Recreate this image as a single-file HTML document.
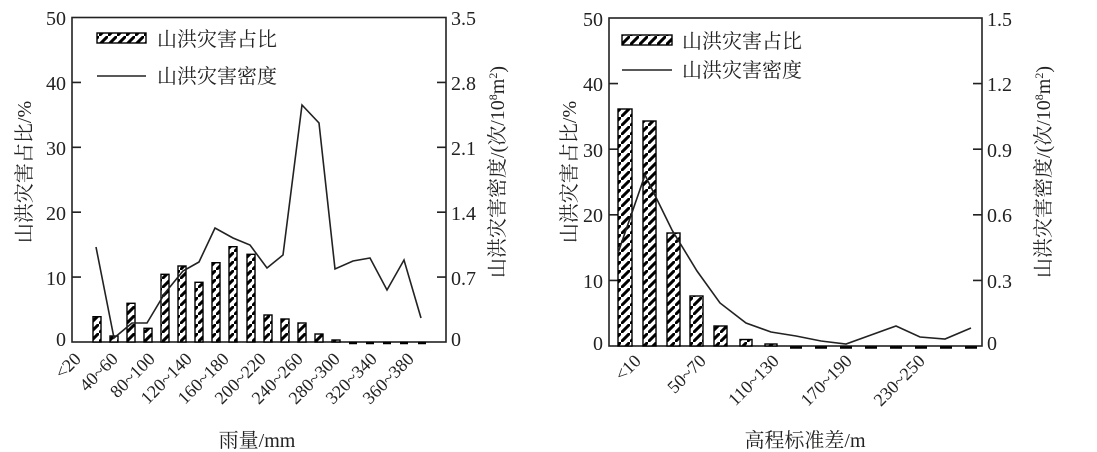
<!DOCTYPE html>
<html><head><meta charset="utf-8"><style>
html,body{margin:0;padding:0;background:#fff;}
svg{display:block;}
text{font-family:"Liberation Serif","Noto Serif CJK SC",serif;fill:#222;}
.cj{font-family:"Liberation Serif","Noto Serif CJK SC","Noto Sans CJK SC",serif;}
</style></head><body>
<svg width="1097" height="452" viewBox="0 0 1097 452" xmlns="http://www.w3.org/2000/svg">
<defs>
<pattern id="h" patternUnits="userSpaceOnUse" width="9" height="9">
<rect width="9" height="9" fill="#fff"/>
<path d="M-1,10 L10,-1" stroke="#000" stroke-width="3"/>
</pattern>
</defs>

<!-- LEFT CHART -->
<g stroke="#222" stroke-width="1.6" fill="none">
<rect x="72" y="17.5" width="374" height="324.5"/>
<path d="M72,82.4h9 M72,147.3h9 M72,212.2h9 M72,277.1h9 M446,82.4h-9 M446,147.3h-9 M446,212.2h-9 M446,277.1h-9"/>
</g>
<g font-size="20" text-anchor="end">
<text x="66" y="25">50</text><text x="66" y="90">40</text><text x="66" y="155">30</text>
<text x="66" y="220">20</text><text x="66" y="285">10</text><text x="66" y="346">0</text>
</g>
<g font-size="20" text-anchor="start">
<text x="451" y="25">3.5</text><text x="451" y="90">2.8</text><text x="451" y="155">2.1</text>
<text x="451" y="220">1.4</text><text x="451" y="285">0.7</text><text x="451" y="346">0</text>
</g>
<g stroke="#000" stroke-width="1.4" fill="url(#h)">
<rect x="93" y="316.7" width="8" height="25.3"/>
<rect x="110" y="336" width="8" height="6"/>
<rect x="127" y="303.3" width="8" height="38.7"/>
<rect x="144" y="328.3" width="8" height="13.7"/>
<rect x="161" y="274.3" width="8" height="67.7"/>
<rect x="178" y="266" width="8" height="76"/>
<rect x="195" y="282.3" width="8" height="59.7"/>
<rect x="212" y="262.7" width="8" height="79.3"/>
<rect x="229" y="246.7" width="8" height="95.3"/>
<rect x="247" y="254.3" width="8" height="87.7"/>
<rect x="264" y="315" width="8" height="27"/>
<rect x="281" y="319" width="8" height="23"/>
<rect x="298" y="323" width="8" height="19"/>
<rect x="315" y="334" width="8" height="8"/>
<rect x="332" y="340" width="8" height="2"/>
</g>
<g stroke="#000" stroke-width="2.5">
<path d="M349,343h8 M366,343h8 M383,343h8 M400,343h8 M418,343h8"/>
</g>
<polyline fill="none" stroke="#222" stroke-width="1.6" points="96,247 114,338 132,323 147,323 165,293 183,271 199,262 215,228 233,238 250,245 267,268 283,255 302,105 319,123 335,269 353,261 370,258 387,290 404,260 421,318"/>
<rect x="97" y="33" width="49" height="10" fill="url(#h)" stroke="#000" stroke-width="1.4"/>
<text class="cj" x="157" y="46" font-size="20">山洪灾害占比</text>
<line x1="97" y1="76" x2="146" y2="76" stroke="#222" stroke-width="1.6"/>
<text class="cj" x="157" y="83" font-size="20">山洪灾害密度</text>
<g font-size="18" text-anchor="end">
<text transform="translate(82,360) rotate(-45)">&lt;20</text>
<text transform="translate(119,360) rotate(-45)">40~60</text>
<text transform="translate(156,360) rotate(-45)">80~100</text>
<text transform="translate(193,360) rotate(-45)">120~140</text>
<text transform="translate(230,360) rotate(-45)">160~180</text>
<text transform="translate(267,360) rotate(-45)">200~220</text>
<text transform="translate(304,360) rotate(-45)">240~260</text>
<text transform="translate(341,360) rotate(-45)">280~300</text>
<text transform="translate(378,360) rotate(-45)">320~340</text>
<text transform="translate(415,360) rotate(-45)">360~380</text>
</g>
<text class="cj" x="257" y="447" font-size="20" text-anchor="middle">雨量/mm</text>
<text class="cj" font-size="20" text-anchor="middle" transform="translate(31,172) rotate(-90)">山洪灾害占比/%</text>
<text class="cj" font-size="20" text-anchor="middle" transform="translate(504,172) rotate(-90)">山洪灾害密度/(次/10<tspan font-size="12" dy="-7">8</tspan><tspan dy="7">m</tspan><tspan font-size="12" dy="-7">2</tspan><tspan dy="7">)</tspan></text>

<!-- RIGHT CHART -->
<g stroke="#222" stroke-width="1.6" fill="none">
<rect x="609" y="18" width="373" height="328"/>
<path d="M609,83.6h9 M609,149.2h9 M609,214.8h9 M609,280.4h9 M982,83.6h-9 M982,149.2h-9 M982,214.8h-9 M982,280.4h-9"/>
</g>
<g font-size="20" text-anchor="end">
<text x="603" y="26">50</text><text x="603" y="91">40</text><text x="603" y="157">30</text>
<text x="603" y="222">20</text><text x="603" y="288">10</text><text x="603" y="350">0</text>
</g>
<g font-size="20" text-anchor="start">
<text x="987" y="26">1.5</text><text x="987" y="91">1.2</text><text x="987" y="157">0.9</text>
<text x="987" y="222">0.6</text><text x="987" y="288">0.3</text><text x="987" y="350">0</text>
</g>
<g stroke="#000" stroke-width="1.4" fill="url(#h)">
<rect x="618" y="109" width="14" height="237"/>
<rect x="643" y="121" width="13" height="225"/>
<rect x="667" y="233" width="13" height="113"/>
<rect x="690" y="296" width="13" height="50"/>
<rect x="714" y="326" width="13" height="20"/>
<rect x="740" y="339.5" width="12" height="6.5"/>
<rect x="765" y="344" width="12" height="2"/>
</g>
<g stroke="#000" stroke-width="2.5">
<path d="M790,347.5h12 M815,347.5h12 M840,347.5h12 M865,347.5h12 M890,347.5h12 M915,347.5h12 M940,347.5h12 M965,347.5h12"/>
</g>
<polyline fill="none" stroke="#222" stroke-width="1.6" points="618,253 645,175 672,230 697,271 720,303 746,323 771,332 796,336 821,341 846,344 871,335 896,326 920,337 945,339 971,328"/>
<rect x="622" y="35" width="50" height="10" fill="url(#h)" stroke="#000" stroke-width="1.4"/>
<text class="cj" x="682" y="48" font-size="20">山洪灾害占比</text>
<line x1="622" y1="70" x2="672" y2="70" stroke="#222" stroke-width="1.6"/>
<text class="cj" x="682" y="77" font-size="20">山洪灾害密度</text>
<g font-size="18" text-anchor="end">
<text transform="translate(642,362) rotate(-45)">&lt;10</text>
<text transform="translate(707,362) rotate(-45)">50~70</text>
<text transform="translate(780,362) rotate(-45)">110~130</text>
<text transform="translate(853,362) rotate(-45)">170~190</text>
<text transform="translate(926,362) rotate(-45)">230~250</text>
</g>
<text class="cj" x="805" y="447" font-size="20" text-anchor="middle">高程标准差/m</text>
<text class="cj" font-size="20" text-anchor="middle" transform="translate(576,172) rotate(-90)">山洪灾害占比/%</text>
<text class="cj" font-size="20" text-anchor="middle" transform="translate(1050,172) rotate(-90)">山洪灾害密度/(次/10<tspan font-size="12" dy="-7">8</tspan><tspan dy="7">m</tspan><tspan font-size="12" dy="-7">2</tspan><tspan dy="7">)</tspan></text>
</svg>
</body></html>
